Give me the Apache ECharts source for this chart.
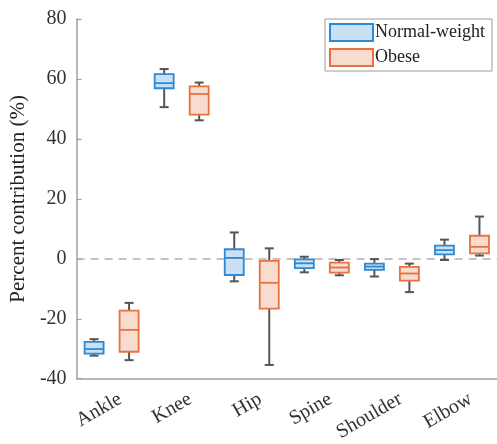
<!DOCTYPE html>
<html>
<head>
<meta charset="utf-8">
<script src="https://cdn.jsdelivr.net/npm/echarts@6/dist/echarts.min.js"></script>
<style>
  html, body { margin: 0; padding: 0; background: #fff; }
  #chart { width: 497px; height: 444px; }
</style>
</head>
<body>
<div id="chart"></div>
<script>
// Joint categories along the x axis
const categories = ['Ankle', 'Knee', 'Hip', 'Spine', 'Shoulder', 'Elbow'];

// Box statistics per joint: [min, Q1, median, Q3, max] (percent contribution)
const normalWeight = [
  [-32.3, -31.6, -30.1, -27.7, -26.8],
  [50.6, 56.9, 58.6, 61.6, 63.3],
  [-7.5, -5.4, 0.3, 3.2, 8.8],
  [-4.5, -3.1, -1.5, -0.2, 0.7],
  [-5.9, -3.7, -2.6, -1.6, -0.1],
  [-0.4, 1.5, 2.9, 4.4, 6.4]
];
const obese = [
  [-33.8, -31.0, -23.7, -17.3, -14.7],
  [46.2, 48.1, 55.0, 57.5, 58.8],
  [-35.4, -16.6, -8.0, -0.7, 3.5],
  [-5.5, -4.6, -2.9, -1.3, -0.4],
  [-11.1, -7.3, -4.9, -2.7, -1.6],
  [1.1, 1.8, 4.0, 7.7, 14.1]
];

// Y axis range and tick step
const yMin = -40, yMax = 80, yStep = 20;

const FONT = "'Liberation Serif', 'Times New Roman', serif";
const groups = [
  { name: 'Normal-weight', stats: normalWeight, stroke: '#2e89d3', fill: '#cbe1f3', shift: -17.5 },
  { name: 'Obese', stats: obese, stroke: '#e9703f', fill: '#f8dccf', shift: 17.5 }
];
const BOX_W = 19, CAP_W = 9, WHISKER = '#555555';

function makeRender(g) {
  return function (params, api) {
    const i = api.value(0);
    const lo = api.coord([i, api.value(1)]);
    const q1 = api.coord([i, api.value(2)]);
    const md = api.coord([i, api.value(3)]);
    const q3 = api.coord([i, api.value(4)]);
    const hi = api.coord([i, api.value(5)]);
    const cx = lo[0] + g.shift;
    const wStyle = { stroke: WHISKER, lineWidth: 2 };
    return {
      type: 'group',
      children: [
        { type: 'line', shape: { x1: cx, y1: hi[1], x2: cx, y2: q3[1] }, style: wStyle },
        { type: 'line', shape: { x1: cx, y1: q1[1], x2: cx, y2: lo[1] }, style: wStyle },
        { type: 'line', shape: { x1: cx - CAP_W / 2, y1: hi[1], x2: cx + CAP_W / 2, y2: hi[1] }, style: wStyle },
        { type: 'line', shape: { x1: cx - CAP_W / 2, y1: lo[1], x2: cx + CAP_W / 2, y2: lo[1] }, style: wStyle },
        { type: 'rect', shape: { x: cx - BOX_W / 2, y: q3[1], width: BOX_W, height: q1[1] - q3[1] },
          style: { fill: g.fill, stroke: g.stroke, lineWidth: 1.8 } },
        { type: 'line', shape: { x1: cx - BOX_W / 2, y1: md[1], x2: cx + BOX_W / 2, y2: md[1] },
          style: { stroke: g.stroke, lineWidth: 1.8 } }
      ]
    };
  };
}

const series = groups.map(function (g, k) {
  const s = {
    name: g.name,
    type: 'custom',
    renderItem: makeRender(g),
    itemStyle: { color: g.fill, borderColor: g.stroke },
    encode: { x: 0, y: [1, 2, 3, 4, 5] },
    data: g.stats.map(function (row, i) { return [i].concat(row); }),
    z: 3
  };
  if (k === 0) {
    // dashed reference line at zero contribution
    s.markLine = {
      silent: true,
      symbol: 'none',
      label: { show: false },
      lineStyle: { color: '#b0b0b0', type: [8, 6], width: 1.5 },
      data: [{ yAxis: 0 }],
      z: 1
    };
  }
  return s;
});

const chart = echarts.init(document.getElementById('chart'), null, { renderer: 'canvas' });
chart.setOption({
  animation: false,
  backgroundColor: '#ffffff',
  textStyle: { fontFamily: FONT },
  grid: { left: 76, top: 19, width: 426, height: 363, containLabel: false },
  legend: {
    left: 325, top: 19,
    orient: 'vertical',
    padding: [4, 7, 4, 4],
    itemGap: 6,
    itemWidth: 43, itemHeight: 17,
    borderColor: '#9a9a9a', borderWidth: 1,
    backgroundColor: '#ffffff',
    textStyle: { fontFamily: FONT, fontSize: 18, color: '#222222', padding: [0, 0, 0, -3] },
    data: groups.map(function (g) {
      return { name: g.name, icon: 'rect', itemStyle: { color: g.fill, borderColor: g.stroke, borderWidth: 2 } };
    })
  },
  xAxis: {
    type: 'category',
    data: categories,
    boundaryGap: true,
    axisLine: { onZero: false, lineStyle: { color: '#a0a0a0', width: 1.5 } },
    axisTick: { inside: true, alignWithLabel: true, length: 5, lineStyle: { color: '#a0a0a0', width: 1.2 } },
    axisLabel: { rotate: 30, margin: 24, fontSize: 20, color: '#333333', fontFamily: FONT, padding: [0, -10, 0, 0], interval: 0 },
    splitLine: { show: false }
  },
  yAxis: {
    type: 'value',
    min: yMin, max: yMax, interval: yStep,
    name: 'Percent contribution (%)',
    nameLocation: 'middle',
    nameGap: 37,
    nameTextStyle: { fontFamily: FONT, fontSize: 21, color: '#222222' },
    axisLine: { show: true, onZero: false, lineStyle: { color: '#a0a0a0', width: 1.5 } },
    axisTick: { show: true, inside: true, length: 5, lineStyle: { color: '#a0a0a0', width: 1.2 } },
    axisLabel: { fontSize: 20, color: '#333333', fontFamily: FONT, margin: 10 },
    splitLine: { show: false }
  },
  series: series
});
</script>
</body>
</html>
